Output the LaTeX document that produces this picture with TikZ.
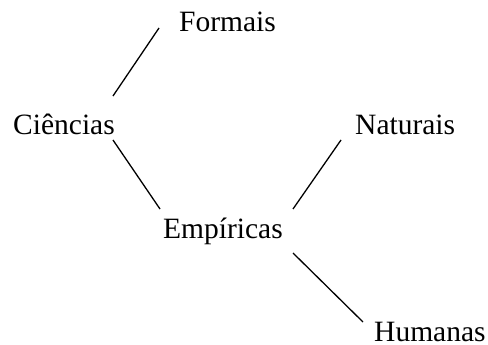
\documentclass[tikz,border=0pt]{standalone}
\usepackage{fontspec}
\setmainfont{Liberation Serif}
\begin{document}
\begin{tikzpicture}[x=1pt,y=-1pt,
  lbl/.style={anchor=base west,inner sep=0pt,font=\fontsize{29.5}{35}\selectfont},
  edge/.style={line width=1.3pt}]
\useasboundingbox (0,0) rectangle (488,345);
\node[lbl] (formais) at (179,32) {Formais};
\node[lbl] (ciencias) at (13,135) {Ciências};
\node[lbl] (naturais) at (355,135) {Naturais};
\node[lbl] (empiricas) at (163,238) {Empíricas};
\node[lbl] (humanas) at (374,341) {Humanas};
\draw[edge] ([xshift=-20pt,yshift=4pt]formais.base west) -- ([xshift=-2pt,yshift=39pt]ciencias.base east);
\draw[edge] ([xshift=-2pt,yshift=-5pt]ciencias.base east) -- ([xshift=-3pt,yshift=29pt]empiricas.base west);
\draw[edge] ([xshift=10pt,yshift=29pt]empiricas.base east) -- ([xshift=-14pt,yshift=-5pt]naturais.base west);
\draw[edge] ([xshift=10pt,yshift=-15pt]empiricas.base east) -- ([xshift=-11pt,yshift=19pt]humanas.base west);
\end{tikzpicture}
\end{document}
